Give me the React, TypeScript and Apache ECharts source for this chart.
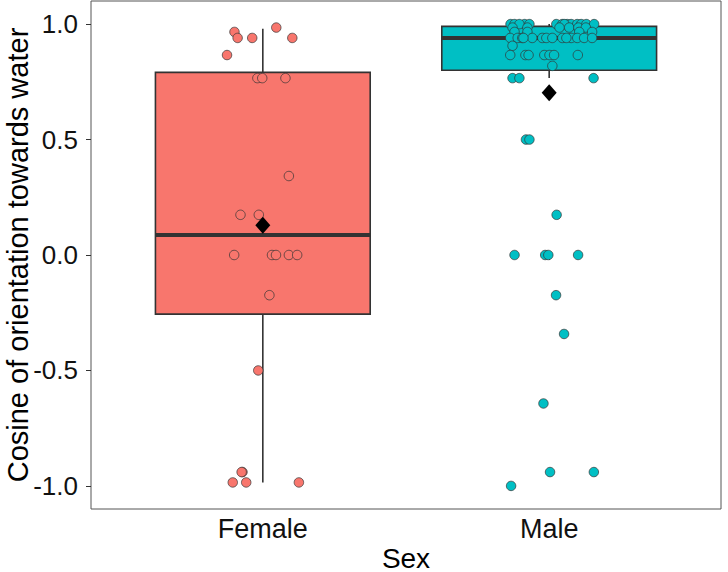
import React, { useEffect, useRef } from "react";
import * as echarts from "echarts";

// Categories and positions on the discrete axis (1 = Female, 2 = Male)
const categories = ["Female", "Male"];
const groupColors = ["#F8766D", "#00BFC4"];

// Box statistics: [lower whisker, Q1, median, Q3, upper whisker]
const femaleBox = [-0.985, -0.256, 0.087, 0.791, 0.98];
const maleBox = [0.766, 0.8, 0.94, 0.99, 1.0];
const groupMeans = [0.129, 0.703];

// Jittered observations: horizontal jitter offset and value
const femaleJitter = [
  -0.099, -0.088, -0.037, 0.047, 0.103, -0.125, -0.019, -0.002, 0.079, 0.091,
  -0.078, -0.014, -0.1, 0.032, 0.046, 0.091, 0.12, 0.023, -0.016, -0.071,
  -0.074, -0.105, -0.058, 0.126,
];
const femaleValues = [
  0.966, 0.94, 0.94, 0.985, 0.94, 0.866, 0.766, 0.766, 0.766, 0.342,
  0.174, 0.174, 0, 0, 0, 0, 0, -0.174, -0.5, -0.94,
  -0.94, -0.985, -0.985, -0.985,
];

const maleJitter = [
  -0.135, -0.121, -0.086, -0.069, 0.025, 0.046, 0.063, 0.077, 0.098, 0.112, 0.13, 0.157, -0.104, 0.053,
  -0.128, -0.076, 0.036, 0.07, 0.102, 0.128,
  -0.121, -0.076, 0.105, 0.15,
  -0.136, -0.11, -0.094, -0.059, -0.024, -0.01, 0.011, 0.046, 0.077, 0.098, 0.122, 0.15, -0.09, 0.06,
  -0.128,
  -0.136, -0.083, -0.072, -0.017, 0.001, 0.017, 0.1,
  0.011,
  -0.128, -0.104, 0.155,
  -0.081, -0.069, 0.026, -0.121, -0.014, -0.003, 0.101, 0.024, 0.052, -0.02, 0.003, 0.156, -0.133,
];
const maleValues = [
  1, 1, 1, 1, 1, 1, 1, 1, 1, 1, 1, 1, 1, 1,
  0.985, 0.985, 0.985, 0.985, 0.985, 0.985,
  0.966, 0.966, 0.966, 0.966,
  0.94, 0.94, 0.94, 0.94, 0.94, 0.94, 0.94, 0.94, 0.94, 0.94, 0.94, 0.94, 0.94, 0.94,
  0.906,
  0.866, 0.866, 0.866, 0.866, 0.866, 0.866, 0.866,
  0.819,
  0.766, 0.766, 0.766,
  0.5, 0.5, 0.174, 0, 0, 0, 0, -0.174, -0.342, -0.643, -0.94, -0.94, -1.0,
];

const yTicks = [-1, -0.5, 0, 0.5, 1];
const BOX_WIDTH = 0.75;
const FONT = "'Liberation Sans', Arial, Helvetica, sans-serif";

export default function App() {
  const ref = useRef<HTMLDivElement>(null);

  useEffect(() => {
    if (!ref.current) return;
    const chart = echarts.init(ref.current, undefined, { renderer: "svg" });

    const boxData = [femaleBox, maleBox].map((b, i) => [i + 1, ...b]);
    const femalePts = femaleValues.map((v, i) => [1 + femaleJitter[i], v]);
    const malePts = maleValues.map((v, i) => [2 + maleJitter[i], v]);
    const meanPts = groupMeans.map((m, i) => [i + 1, m]);

    chart.setOption({
      animation: false,
      backgroundColor: "#ffffff",
      grid: {
        left: 91,
        right: 7,
        top: 1,
        bottom: 63,
        containLabel: false,
        outerBoundsMode: "none",
        show: true,
        borderColor: "#555555",
        borderWidth: 1,
        backgroundColor: "transparent",
      },
      xAxis: {
        type: "value",
        min: 0.4,
        max: 2.6,
        name: "Sex",
        nameLocation: "middle",
        nameGap: 35,
        nameMoveOverlap: false,
        nameTextStyle: { fontSize: 28, color: "#000", fontFamily: FONT },
        axisLine: { show: false },
        splitLine: { show: false },
        axisTick: {
          show: true,
          length: 5,
          customValues: [1, 2],
          lineStyle: { color: "#333", width: 1 },
        },
        axisLabel: {
          customValues: [1, 2],
          formatter: (v: number) => categories[Math.round(v) - 1] ?? "",
          fontSize: 27,
          color: "#111",
          fontFamily: FONT,
          margin: 6,
        },
      },
      yAxis: {
        type: "value",
        min: -1.1,
        max: 1.1,
        name: "Cosine of orientation towards water",
        nameLocation: "middle",
        nameGap: 59,
        nameMoveOverlap: false,
        nameTextStyle: { fontSize: 29, color: "#000", fontFamily: FONT },
        axisLine: { show: false },
        splitLine: { show: false },
        axisTick: {
          show: true,
          length: 5,
          customValues: yTicks,
          lineStyle: { color: "#333", width: 1 },
        },
        axisLabel: {
          customValues: yTicks,
          formatter: (v: number) => v.toFixed(1),
          fontSize: 26,
          color: "#111",
          fontFamily: FONT,
          margin: 13,
        },
      },
      series: [
        {
          type: "custom",
          z: 2,
          encode: { x: 0, y: [1, 2, 3, 4, 5] },
          data: boxData,
          renderItem: (params: any, api: any) => {
            const x = api.value(0);
            const lo = api.coord([x, api.value(1)]);
            const q1 = api.coord([x, api.value(2)]);
            const med = api.coord([x, api.value(3)]);
            const q3 = api.coord([x, api.value(4)]);
            const hi = api.coord([x, api.value(5)]);
            const half = api.size([BOX_WIDTH, 0])[0] / 2;
            const fill = groupColors[params.dataIndex];
            const stroke = "#333333";
            return {
              type: "group",
              children: [
                {
                  type: "line",
                  shape: { x1: lo[0], y1: lo[1], x2: q1[0], y2: q1[1] },
                  style: { stroke, lineWidth: 1.6 },
                },
                {
                  type: "line",
                  shape: { x1: q3[0], y1: q3[1], x2: hi[0], y2: hi[1] },
                  style: { stroke, lineWidth: 1.6 },
                },
                {
                  type: "rect",
                  shape: { x: q3[0] - half, y: q3[1], width: half * 2, height: q1[1] - q3[1] },
                  style: { fill, stroke, lineWidth: 1.6 },
                },
                {
                  type: "line",
                  shape: { x1: med[0] - half, y1: med[1], x2: med[0] + half, y2: med[1] },
                  style: { stroke, lineWidth: 4 },
                },
              ],
            };
          },
        },
        {
          type: "scatter",
          z: 3,
          data: femalePts,
          symbol: "circle",
          symbolSize: 9.5,
          itemStyle: { color: groupColors[0], borderColor: "#333", borderWidth: 0.7, opacity: 1 },
        },
        {
          type: "scatter",
          z: 3,
          data: malePts,
          symbol: "circle",
          symbolSize: 9.5,
          itemStyle: { color: groupColors[1], borderColor: "#333", borderWidth: 0.7, opacity: 1 },
        },
        {
          type: "scatter",
          z: 4,
          data: meanPts,
          symbol: "diamond",
          symbolSize: [15, 17],
          itemStyle: { color: "#000000", opacity: 1 },
        },
      ],
    });

    return () => chart.dispose();
  }, []);

  return <div ref={ref} style={{ width: 728, height: 572, position: "absolute", left: 0, top: 0 }} />;
}
